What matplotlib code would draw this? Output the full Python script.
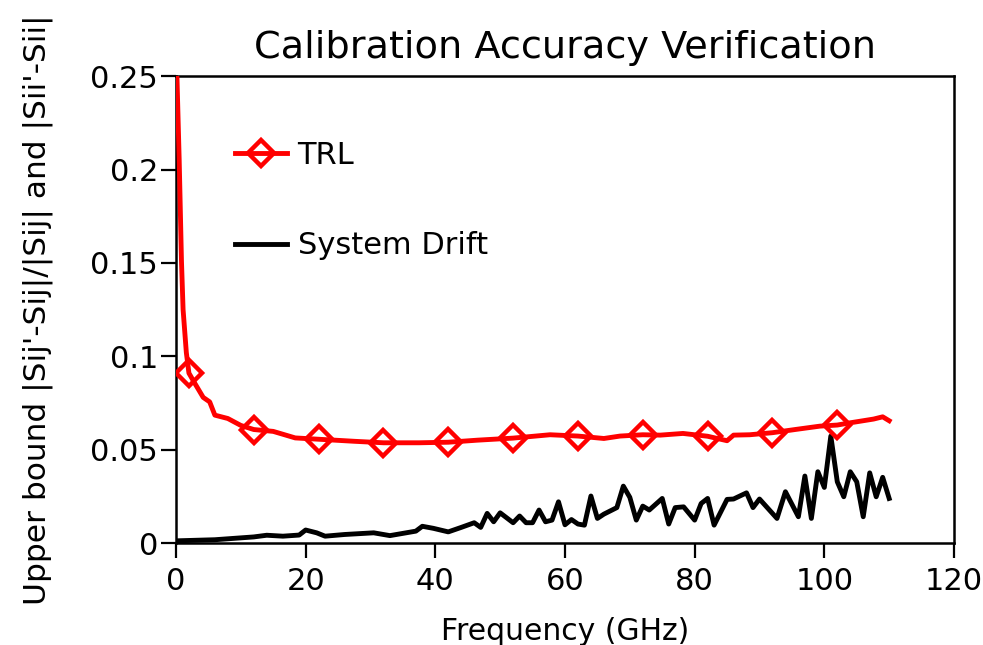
import matplotlib
matplotlib.use("Agg")
import matplotlib.pyplot as plt

# TRL upper bound
trl_freq = [0.15, 0.5, 0.85, 1.1, 1.6, 2, 3, 4.2, 5.2, 6, 8, 10, 12, 15, 18.4, 22,
            27.5, 32, 37.5, 42, 46.5, 52, 57.7, 62, 66, 68.5, 72, 74.7, 78.2, 82,
            85, 86, 88.5, 92, 95.7, 99.3, 102, 104, 107.6, 109, 110]
trl_val = [0.25, 0.205, 0.151, 0.125, 0.102, 0.091, 0.085, 0.078, 0.0756, 0.0685,
           0.0667, 0.063, 0.0608, 0.0598, 0.0563, 0.0556, 0.0545, 0.0537, 0.0537,
           0.0540, 0.0551, 0.0562, 0.0580, 0.0573, 0.0560, 0.0573, 0.0580, 0.0578,
           0.0587, 0.0572, 0.0548, 0.0578, 0.0580, 0.0591, 0.0609, 0.0626, 0.0632,
           0.0644, 0.0664, 0.0676, 0.0655]
trl_marker_freq = [2, 12, 22, 32, 42, 52, 62, 72, 82, 92, 102]

# System drift
drift_freq = [0, 6, 12, 14, 16.5, 19, 20, 21.7, 23, 26, 30.5, 33, 37, 38, 39.7, 42,
              44, 46, 47, 48, 49, 50, 52, 53, 54, 55, 56, 57, 58, 59, 60, 61, 62,
              63, 64, 65, 66, 68, 69, 70, 71, 72, 73, 75, 76, 77, 78.3, 80, 81, 82,
              83, 85, 86, 88, 89, 90, 92.7, 94, 96, 97, 98, 99, 100, 101, 102, 103,
              104, 105, 106, 107, 108, 109, 110]
drift_val = [0.0012, 0.0018, 0.0033, 0.0042, 0.0037, 0.0043, 0.0070, 0.0055, 0.0037,
             0.0046, 0.0055, 0.0040, 0.0064, 0.0090, 0.0079, 0.0060, 0.0084, 0.0109,
             0.0084, 0.0159, 0.0114, 0.0162, 0.0109, 0.0145, 0.0109, 0.0109, 0.0177,
             0.0114, 0.0123, 0.0221, 0.0098, 0.0126, 0.0102, 0.0096, 0.0252, 0.0132,
             0.0155, 0.0190, 0.0305, 0.0245, 0.0123, 0.0198, 0.0177, 0.0239, 0.0102,
             0.0190, 0.0194, 0.0123, 0.0212, 0.0239, 0.0096, 0.0234, 0.0236, 0.0269,
             0.0190, 0.0236, 0.0132, 0.0275, 0.0141, 0.0359, 0.0132, 0.0382, 0.0298,
             0.0573, 0.0328, 0.0248, 0.0382, 0.0328, 0.0141, 0.0376, 0.0248, 0.0352,
             0.0239]

x_ticks = [0, 20, 40, 60, 80, 100, 120]
y_ticks = [0, 0.05, 0.1, 0.15, 0.2, 0.25]
y_tick_labels = ["0", "0.05", "0.1", "0.15", "0.2", "0.25"]

plt.rcParams["font.family"] = ["DejaVu Sans"]

fig = plt.figure(figsize=(9.83, 6.45), dpi=100)
ax = fig.add_axes([0.179, 0.158, 0.7915, 0.724])

mark_idx = [trl_freq.index(f) for f in trl_marker_freq]
ax.plot(trl_freq, trl_val, color="#ff0000", lw=3.5, marker="D", markevery=mark_idx,
        ms=13, mfc="none", mec="#ff0000", mew=3.2, label="TRL", zorder=3)
ax.plot(drift_freq, drift_val, color="black", lw=3.5, label="System Drift", zorder=2)

ax.set_xlim(0, 120)
ax.set_ylim(0, 0.25)
ax.set_xticks(x_ticks)
ax.set_yticks(y_ticks)
ax.set_yticklabels(y_tick_labels)
ax.tick_params(direction="out", length=11, width=1.6, labelsize=22)
ax.tick_params(axis="x", pad=6)
ax.tick_params(axis="y", pad=2)
for sp in ax.spines.values():
    sp.set_linewidth(1.8)

ax.set_title("Calibration Accuracy Verification", fontsize=27.5, pad=13)
ax.set_xlabel("Frequency (GHz)", fontsize=21.5, labelpad=15)
ax.set_ylabel("Upper bound |Sij'-Sij|/|Sij| and |Sii'-Sii|", fontsize=22.5)
ax.yaxis.set_label_coords(-0.158, 0.5)

ax.legend(loc="upper left", bbox_to_anchor=(0.06, 0.887), frameon=False, fontsize=22,
          handlelength=1.7, handletextpad=0.35, labelspacing=2.0, borderaxespad=0)

fig.savefig("out.png", dpi=100)
